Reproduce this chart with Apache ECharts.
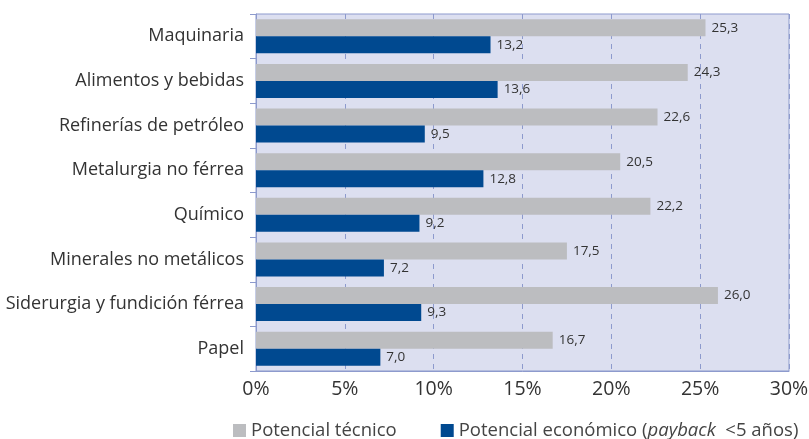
<!DOCTYPE html>
<html>
<head>
<meta charset="utf-8">
<script src="https://cdn.jsdelivr.net/npm/echarts@6/dist/echarts.min.js"></script>
<style>
  html, body { margin: 0; padding: 0; background: #fff; }
  #chart { width: 809px; height: 439px; }
</style>
</head>
<body>
<div id="chart"></div>
<script>
// sectores industriales
const categorias = ['Maquinaria', 'Alimentos y bebidas', 'Refinerías de petróleo', 'Metalurgia no férrea',
  'Químico', 'Minerales no metálicos', 'Siderurgia y fundición férrea', 'Papel']
// potencial técnico (%)
const tecnico = [25.3, 24.3, 22.6, 20.5, 22.2, 17.5, 26.0, 16.7]
// potencial económico (%)
const economico = [13.2, 13.6, 9.5, 12.8, 9.2, 7.2, 9.3, 7.0]
const ticksX = [0, 5, 10, 15, 20, 25, 30]

const chart = echarts.init(document.getElementById('chart'))
const fmt = (v) => v.toFixed(1).replace('.', ',')
const font = '"Open Sans", "Noto Sans", sans-serif'

chart.setOption({
  animation: false,
  textStyle: { fontFamily: font },
  grid: {
    left: 256, right: 20, top: 14, bottom: 68,
    outerBoundsMode: 'none',
    show: true,
    backgroundColor: '#dcdff0',
    borderColor: '#8d9acd',
    borderWidth: 1
  },
  legend: {
    top: 416,
    left: 228,
    itemWidth: 13,
    itemHeight: 13,
    itemGap: 44,
    icon: 'rect',
    textStyle: {
      fontSize: 18.5, color: '#444', fontFamily: font,
      rich: {
        n: { fontSize: 18.5, color: '#444', fontFamily: font },
        i: { fontSize: 18.5, color: '#444', fontFamily: font, fontStyle: 'italic' }
      }
    },
    formatter: (name) => name === 'economico'
      ? '{n|Potencial económico (}{i|payback}{n|  <5 años)}'
      : '{n|Potencial técnico}',
    data: ['tecnico', 'economico']
  },
  xAxis: {
    type: 'value',
    min: ticksX[0],
    max: ticksX[ticksX.length - 1],
    interval: 5,
    axisLine: { show: true, lineStyle: { color: '#8d9acd' } },
    axisTick: { show: false },
    axisLabel: {
      fontSize: 19.5, color: '#333', margin: 8,
      formatter: (v) => v + '%'
    },
    splitLine: { show: true, lineStyle: { color: '#8d9acd', type: [5, 5] } }
  },
  yAxis: {
    type: 'category',
    inverse: true,
    data: categorias,
    axisLine: { show: true, lineStyle: { color: '#8d9acd' } },
    axisTick: { show: true, length: 6, lineStyle: { color: '#8d9acd' } },
    axisLabel: { fontSize: 18, color: '#333', margin: 12 }
  },
  series: [
    {
      name: 'tecnico',
      type: 'bar',
      data: tecnico,
      barGap: '0%',
      barCategoryGap: '24%',
      itemStyle: { color: '#bcbdc0' },
      label: { show: true, position: 'right', distance: 6, fontSize: 13.5, color: '#333', formatter: (p) => fmt(p.value) }
    },
    {
      name: 'economico',
      type: 'bar',
      data: economico,
      itemStyle: { color: '#004990' },
      label: { show: true, position: 'right', distance: 6, fontSize: 13.5, color: '#333', formatter: (p) => fmt(p.value) }
    }
  ]
})
</script>
</body>
</html>
